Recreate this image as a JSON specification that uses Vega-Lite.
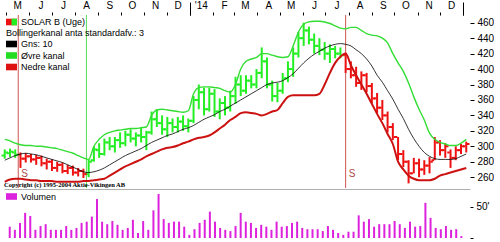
{
  "$schema": "https://vega.github.io/schema/vega-lite/v6.json",
  "padding": 0,
  "background": "white",
  "spacing": 0,
  "config": {
    "view": {"stroke": null},
    "font": "Liberation Sans",
    "axis": {"labelFont": "Liberation Sans", "labelColor": "#000", "tickColor": "#000", "grid": false, "labelOverlap": false},
    "legend": {"symbolOpacity": 1, "symbolStrokeWidth": 0, "labelFont": "Liberation Sans", "labelColor": "#000", "titleFont": "Liberation Sans", "titleColor": "#000"}
  },
  "datasets": {
    "weeks": [
      {"date":"2013-04-29","open":288,"high":296,"low":284,"close":292,"mid":282,"upper":309,"lower":254,"vol":18,"signal":"buy"},
      {"date":"2013-05-06","open":291,"high":297,"low":286,"close":293,"mid":285,"upper":307,"lower":257,"vol":13,"signal":"buy"},
      {"date":"2013-05-13","open":292,"high":296,"low":285,"close":289,"mid":288,"upper":304,"lower":258,"vol":24,"signal":"buy"},
      {"date":"2013-05-20","open":289,"high":292,"low":272,"close":284,"mid":290,"upper":302,"lower":258,"vol":40,"signal":"sell"},
      {"date":"2013-05-27","open":284,"high":291,"low":279,"close":287,"mid":291,"upper":301,"lower":257,"vol":35,"signal":"sell"},
      {"date":"2013-06-03","open":287,"high":290,"low":279,"close":283,"mid":290,"upper":301,"lower":256,"vol":13,"signal":"sell"},
      {"date":"2013-06-10","open":283,"high":289,"low":276,"close":285,"mid":289,"upper":300,"lower":256,"vol":19,"signal":"sell"},
      {"date":"2013-06-17","open":285,"high":288,"low":274,"close":278,"mid":287,"upper":300,"lower":255,"vol":22,"signal":"sell"},
      {"date":"2013-06-24","open":278,"high":284,"low":270,"close":280,"mid":285,"upper":299,"lower":255,"vol":13,"signal":"sell"},
      {"date":"2013-07-01","open":280,"high":283,"low":268,"close":272,"mid":283,"upper":298,"lower":255,"vol":13,"signal":"sell"},
      {"date":"2013-07-08","open":272,"high":280,"low":267,"close":276,"mid":281,"upper":297,"lower":254,"vol":13,"signal":"sell"},
      {"date":"2013-07-15","open":276,"high":279,"low":265,"close":268,"mid":279,"upper":295,"lower":254,"vol":19,"signal":"sell"},
      {"date":"2013-07-22","open":268,"high":276,"low":264,"close":272,"mid":276,"upper":293,"lower":254,"vol":13,"signal":"sell"},
      {"date":"2013-07-29","open":272,"high":275,"low":262,"close":266,"mid":273,"upper":291,"lower":254,"vol":16,"signal":"sell"},
      {"date":"2013-08-05","open":266,"high":272,"low":261,"close":268,"mid":270,"upper":288,"lower":254,"vol":24,"signal":"sell"},
      {"date":"2013-08-12","open":268,"high":271,"low":259,"close":264,"mid":267,"upper":285,"lower":255,"vol":26,"signal":"sell"},
      {"date":"2013-08-19","open":264,"high":283,"low":260,"close":280,"mid":266,"upper":283,"lower":255,"vol":34,"signal":"buy"},
      {"date":"2013-08-26","open":282,"high":300,"low":280,"close":296,"mid":267,"upper":300,"lower":256,"vol":62,"signal":"buy"},
      {"date":"2013-09-02","open":295,"high":304,"low":285,"close":290,"mid":269,"upper":309,"lower":257,"vol":26,"signal":"buy"},
      {"date":"2013-09-09","open":290,"high":310,"low":288,"close":305,"mid":272,"upper":315,"lower":258,"vol":22,"signal":"buy"},
      {"date":"2013-09-16","open":305,"high":312,"low":295,"close":300,"mid":276,"upper":318,"lower":262,"vol":27,"signal":"buy"},
      {"date":"2013-09-23","open":300,"high":312,"low":292,"close":308,"mid":280,"upper":320,"lower":266,"vol":21,"signal":"buy"},
      {"date":"2013-09-30","open":308,"high":318,"low":298,"close":304,"mid":284,"upper":321,"lower":270,"vol":13,"signal":"buy"},
      {"date":"2013-10-07","open":304,"high":320,"low":300,"close":315,"mid":288,"upper":322,"lower":274,"vol":16,"signal":"buy"},
      {"date":"2013-10-14","open":315,"high":322,"low":305,"close":310,"mid":291,"upper":323,"lower":277,"vol":29,"signal":"buy"},
      {"date":"2013-10-21","open":310,"high":318,"low":300,"close":314,"mid":294,"upper":323,"lower":280,"vol":8,"signal":"buy"},
      {"date":"2013-10-28","open":314,"high":325,"low":305,"close":312,"mid":297,"upper":324,"lower":283,"vol":27,"signal":"buy"},
      {"date":"2013-11-04","open":312,"high":320,"low":295,"close":318,"mid":301,"upper":325,"lower":287,"vol":13,"signal":"buy"},
      {"date":"2013-11-11","open":318,"high":345,"low":315,"close":335,"mid":305,"upper":340,"lower":290,"vol":44,"signal":"buy"},
      {"date":"2013-11-18","open":335,"high":348,"low":325,"close":330,"mid":308,"upper":347,"lower":293,"vol":70,"signal":"buy"},
      {"date":"2013-11-25","open":330,"high":340,"low":315,"close":322,"mid":311,"upper":348,"lower":296,"vol":30,"signal":"buy"},
      {"date":"2013-12-02","open":322,"high":338,"low":312,"close":330,"mid":314,"upper":347,"lower":298,"vol":24,"signal":"buy"},
      {"date":"2013-12-09","open":330,"high":336,"low":318,"close":325,"mid":316,"upper":346,"lower":299,"vol":26,"signal":"buy"},
      {"date":"2013-12-16","open":325,"high":338,"low":318,"close":332,"mid":319,"upper":345,"lower":301,"vol":26,"signal":"buy"},
      {"date":"2013-12-23","open":332,"high":340,"low":320,"close":326,"mid":322,"upper":344,"lower":304,"vol":18,"signal":"buy"},
      {"date":"2013-12-30","open":326,"high":336,"low":318,"close":333,"mid":324,"upper":346,"lower":306,"vol":5,"signal":"buy"},
      {"date":"2014-01-06","open":333,"high":365,"low":330,"close":360,"mid":327,"upper":368,"lower":309,"vol":14,"signal":"buy"},
      {"date":"2014-01-13","open":360,"high":380,"low":348,"close":370,"mid":331,"upper":376,"lower":311,"vol":24,"signal":"buy"},
      {"date":"2014-01-20","open":370,"high":376,"low":340,"close":348,"mid":335,"upper":377,"lower":312,"vol":29,"signal":"buy"},
      {"date":"2014-01-27","open":348,"high":376,"low":345,"close":368,"mid":338,"upper":377,"lower":314,"vol":42,"signal":"buy"},
      {"date":"2014-02-03","open":368,"high":374,"low":338,"close":345,"mid":341,"upper":376,"lower":318,"vol":26,"signal":"buy"},
      {"date":"2014-02-10","open":345,"high":362,"low":335,"close":356,"mid":345,"upper":375,"lower":323,"vol":16,"signal":"buy"},
      {"date":"2014-02-17","open":356,"high":365,"low":340,"close":350,"mid":348,"upper":372,"lower":328,"vol":13,"signal":"buy"},
      {"date":"2014-02-24","open":350,"high":372,"low":345,"close":365,"mid":352,"upper":370,"lower":334,"vol":11,"signal":"buy"},
      {"date":"2014-03-03","open":365,"high":390,"low":355,"close":380,"mid":356,"upper":380,"lower":338,"vol":19,"signal":"buy"},
      {"date":"2014-03-10","open":380,"high":392,"low":365,"close":372,"mid":360,"upper":400,"lower":343,"vol":40,"signal":"buy"},
      {"date":"2014-03-17","open":372,"high":392,"low":368,"close":385,"mid":364,"upper":410,"lower":344,"vol":26,"signal":"buy"},
      {"date":"2014-03-24","open":385,"high":392,"low":375,"close":380,"mid":368,"upper":413,"lower":343,"vol":24,"signal":"buy"},
      {"date":"2014-03-31","open":380,"high":400,"low":375,"close":395,"mid":372,"upper":415,"lower":342,"vol":16,"signal":"buy"},
      {"date":"2014-04-07","open":395,"high":428,"low":388,"close":410,"mid":376,"upper":420,"lower":340,"vol":21,"signal":"buy"},
      {"date":"2014-04-14","open":410,"high":415,"low":375,"close":380,"mid":380,"upper":420,"lower":342,"vol":18,"signal":"buy"},
      {"date":"2014-04-21","open":380,"high":385,"low":358,"close":365,"mid":382,"upper":418,"lower":345,"vol":13,"signal":"buy"},
      {"date":"2014-04-28","open":365,"high":382,"low":357,"close":372,"mid":383,"upper":416,"lower":347,"vol":26,"signal":"buy"},
      {"date":"2014-05-05","open":372,"high":395,"low":368,"close":388,"mid":385,"upper":415,"lower":356,"vol":18,"signal":"buy"},
      {"date":"2014-05-12","open":388,"high":410,"low":383,"close":400,"mid":389,"upper":416,"lower":364,"vol":19,"signal":"buy"},
      {"date":"2014-05-19","open":400,"high":428,"low":390,"close":420,"mid":394,"upper":430,"lower":366,"vol":24,"signal":"buy"},
      {"date":"2014-05-26","open":420,"high":448,"low":415,"close":440,"mid":401,"upper":448,"lower":366,"vol":26,"signal":"buy"},
      {"date":"2014-06-02","open":440,"high":460,"low":430,"close":450,"mid":408,"upper":458,"lower":366,"vol":16,"signal":"buy"},
      {"date":"2014-06-09","open":450,"high":455,"low":432,"close":438,"mid":414,"upper":461,"lower":366,"vol":14,"signal":"buy"},
      {"date":"2014-06-16","open":438,"high":446,"low":420,"close":430,"mid":419,"upper":462,"lower":366,"vol":14,"signal":"buy"},
      {"date":"2014-06-23","open":430,"high":440,"low":418,"close":425,"mid":423,"upper":462,"lower":368,"vol":14,"signal":"buy"},
      {"date":"2014-06-30","open":425,"high":435,"low":412,"close":420,"mid":427,"upper":461,"lower":380,"vol":11,"signal":"buy"},
      {"date":"2014-07-07","open":420,"high":432,"low":408,"close":426,"mid":430,"upper":459,"lower":395,"vol":19,"signal":"buy"},
      {"date":"2014-07-14","open":426,"high":430,"low":414,"close":420,"mid":432,"upper":456,"lower":408,"vol":13,"signal":"buy"},
      {"date":"2014-07-21","open":420,"high":428,"low":414,"close":418,"mid":433,"upper":453,"lower":416,"vol":8,"signal":"buy"},
      {"date":"2014-07-28","open":418,"high":421,"low":395,"close":400,"mid":432,"upper":452,"lower":420,"vol":5,"signal":"sell"},
      {"date":"2014-08-04","open":400,"high":410,"low":388,"close":392,"mid":430,"upper":454,"lower":405,"vol":10,"signal":"sell"},
      {"date":"2014-08-11","open":392,"high":403,"low":377,"close":382,"mid":425,"upper":454,"lower":392,"vol":10,"signal":"sell"},
      {"date":"2014-08-18","open":382,"high":397,"low":373,"close":392,"mid":420,"upper":450,"lower":380,"vol":36,"signal":"sell"},
      {"date":"2014-08-25","open":392,"high":395,"low":370,"close":378,"mid":413,"upper":446,"lower":368,"vol":26,"signal":"sell"},
      {"date":"2014-09-01","open":378,"high":382,"low":356,"close":362,"mid":404,"upper":444,"lower":355,"vol":30,"signal":"sell"},
      {"date":"2014-09-08","open":362,"high":369,"low":343,"close":350,"mid":392,"upper":443,"lower":342,"vol":18,"signal":"sell"},
      {"date":"2014-09-15","open":350,"high":360,"low":334,"close":340,"mid":383,"upper":440,"lower":330,"vol":22,"signal":"sell"},
      {"date":"2014-09-22","open":340,"high":345,"low":318,"close":325,"mid":372,"upper":434,"lower":316,"vol":22,"signal":"sell"},
      {"date":"2014-09-29","open":325,"high":330,"low":308,"close":312,"mid":361,"upper":420,"lower":303,"vol":22,"signal":"sell"},
      {"date":"2014-10-06","open":312,"high":312,"low":282,"close":290,"mid":348,"upper":408,"lower":280,"vol":27,"signal":"sell"},
      {"date":"2014-10-13","open":290,"high":295,"low":273,"close":280,"mid":336,"upper":397,"lower":270,"vol":22,"signal":"sell"},
      {"date":"2014-10-20","open":280,"high":282,"low":252,"close":265,"mid":322,"upper":382,"lower":262,"vol":16,"signal":"sell"},
      {"date":"2014-10-27","open":265,"high":285,"low":265,"close":278,"mid":310,"upper":364,"lower":258,"vol":26,"signal":"sell"},
      {"date":"2014-11-03","open":278,"high":284,"low":260,"close":270,"mid":300,"upper":348,"lower":256,"vol":18,"signal":"sell"},
      {"date":"2014-11-10","open":270,"high":282,"low":263,"close":275,"mid":292,"upper":334,"lower":256,"vol":19,"signal":"sell"},
      {"date":"2014-11-17","open":275,"high":286,"low":265,"close":280,"mid":287,"upper":317,"lower":256,"vol":56,"signal":"sell"},
      {"date":"2014-11-24","open":282,"high":312,"low":282,"close":305,"mid":284,"upper":309,"lower":258,"vol":32,"signal":"sell"},
      {"date":"2014-12-01","open":305,"high":308,"low":288,"close":295,"mid":283,"upper":305,"lower":262,"vol":16,"signal":"sell"},
      {"date":"2014-12-08","open":295,"high":304,"low":285,"close":300,"mid":283,"upper":303,"lower":264,"vol":14,"signal":"sell"},
      {"date":"2014-12-15","open":292,"high":296,"low":272,"close":285,"mid":283,"upper":301,"lower":266,"vol":19,"signal":"sell"},
      {"date":"2014-12-22","open":285,"high":300,"low":282,"close":295,"mid":284,"upper":301,"lower":268,"vol":13,"signal":"sell"},
      {"date":"2014-12-29","open":295,"high":303,"low":290,"close":300,"mid":287,"upper":304,"lower":270,"vol":14,"signal":"sell"},
      {"date":"2015-01-05","open":300,"high":306,"low":292,"close":303,"mid":290,"upper":309,"lower":272,"vol":3,"signal":"sell"}
    ],
    "signals": [
      {"date":"2013-05-17","signal":"sell"},
      {"date":"2013-08-16","signal":"buy"},
      {"date":"2014-07-28","signal":"sell"}
    ]
  },
  "vconcat": [
    {
      "width": 466,
      "height": 173,
      "resolve": {"scale": {"color": "independent"}, "axis": {"x": "independent", "y": "independent"}, "legend": {"color": "independent"}},
      "layer": [
        {
          "data": {"name": "signals"},
          "mark": {"type": "rule", "strokeWidth": 1},
          "encoding": {
            "x": {"field": "date", "type": "temporal", "axis": null},
            "color": {"field": "signal", "type": "nominal", "scale": {"domain": ["buy", "sell"], "range": ["#55dd55", "#cc5555"]}, "legend": null}
          }
        },
        {
          "data": {"name": "weeks"},
          "mark": {"type": "rule", "strokeWidth": 2},
          "encoding": {
            "x": {"field": "date", "type": "temporal",
              "scale": {"domain": [{"year": 2013, "month": 4, "date": 28}, {"year": 2015, "month": 1, "date": 10}]},
              "axis": {"orient": "top", "tickCount": {"interval": "month", "step": 1},
                "labelExpr": "month(datum.value)==0 ? (year(datum.value)==2014 ? \"'14\" : '') : substring(timeFormat(datum.value, '%b'), 0, 1)",
                "labelOffset": 11, "tickSize": 3, "labelPadding": 2, "domain": false, "grid": false, "title": null,
                "labelFontSize": 10, "labelAngle": 0, "labelFlush": false, "labelOverlap": false, "labelBound": false}},
            "y": {"field": "low", "type": "quantitative",
              "scale": {"domain": [246, 470], "nice": false, "zero": false},
              "axis": {"orient": "right", "values": [260, 280, 300, 320, 340, 360, 380, 400, 420, 440, 460], "tickSize": 4, "labelPadding": 3, "domain": false, "grid": false, "title": null, "labelFontSize": 10, "labelOverlap": false, "labelFlush": false}},
            "y2": {"field": "high"},
            "color": {"field": "signal", "type": "nominal", "scale": {"domain": ["buy", "sell"], "range": ["#22ee22", "#ee1111"]}, "legend": null}
          }
        },
        {
          "data": {"name": "weeks"},
          "mark": {"type": "tick", "orient": "horizontal", "size": 2.5, "thickness": 2, "xOffset": -2, "opacity": 1},
          "encoding": {
            "x": {"field": "date", "type": "temporal",
              "axis": {"orient": "top", "values": [{"year": 2014, "month": 1, "date": 1}, {"year": 2015, "month": 1, "date": 1}], "tickSize": 13, "labels": false, "domain": false, "grid": false, "title": null}},
            "y": {"field": "open", "type": "quantitative", "axis": null},
            "color": {"field": "signal", "type": "nominal", "scale": {"domain": ["buy", "sell"], "range": ["#22ee22", "#ee1111"]}, "legend": null}
          }
        },
        {
          "data": {"name": "weeks"},
          "mark": {"type": "tick", "orient": "horizontal", "size": 2.5, "thickness": 2, "xOffset": 2, "opacity": 1},
          "encoding": {
            "x": {"field": "date", "type": "temporal", "axis": null},
            "y": {"field": "close", "type": "quantitative", "axis": null},
            "color": {"field": "signal", "type": "nominal", "scale": {"domain": ["buy", "sell"], "range": ["#22ee22", "#ee1111"]}, "legend": null}
          }
        },
        {
          "data": {"name": "weeks"},
          "transform": [{"fold": ["mid", "upper", "lower"], "as": ["series", "val"]}],
          "mark": {"type": "line", "interpolate": "monotone"},
          "encoding": {
            "x": {"field": "date", "type": "temporal", "axis": null},
            "y": {"field": "val", "type": "quantitative", "axis": null},
            "color": {"field": "series", "type": "nominal", "scale": {"domain": ["mid", "upper", "lower"], "range": ["#000000", "#33dd33", "#cc1111"]}, "legend": null},
            "strokeWidth": {"field": "series", "type": "nominal", "scale": {"domain": ["mid", "upper", "lower"], "range": [0.8, 2, 2]}, "legend": null}
          }
        },
        {
          "data": {"name": "signals"},
          "transform": [{"filter": {"field": "signal", "equal": "sell"}}],
          "mark": {"type": "text", "align": "left", "baseline": "middle", "dx": 3, "fontSize": 10, "color": "#b04848"},
          "encoding": {
            "x": {"field": "date", "type": "temporal", "axis": null},
            "y": {"datum": 264, "type": "quantitative", "axis": null},
            "text": {"value": "S"}
          }
        },
        {
          "data": {"values": [{"note": "copyright"}]},
          "mark": {"type": "text", "align": "left", "baseline": "bottom", "font": "Liberation Serif", "fontSize": 6.5, "fontWeight": "bold", "color": "#000"},
          "encoding": {
            "x": {"datum": {"year": 2013, "month": 4, "date": 28}, "type": "temporal", "axis": null},
            "y": {"datum": 246.5, "type": "quantitative", "axis": null},
            "text": {"value": "Copyright (c) 1995-2004 Aktie-Vikingen AB"}
          }
        },
        {
          "data": {"values": [{"series": "mid"}, {"series": "upper"}, {"series": "lower"}]},
          "mark": {"type": "square", "size": 0, "opacity": 0},
          "encoding": {
            "color": {"field": "series", "type": "nominal", "scale": {"domain": ["mid", "upper", "lower"], "range": ["#000000", "#22dd22", "#dd1111"]},
              "legend": {"orient": "none", "legendX": 2, "legendY": 13.5, "direction": "vertical",
                "title": "Bollingerkanal anta standardafv.: 3", "titleFontSize": 9, "titleFontWeight": "normal", "titlePadding": 1, "titleLimit": 400,
                "labelExpr": "datum.label == 'mid' ? 'Gns: 10' : datum.label == 'upper' ? 'Øvre kanal' : 'Nedre kanal'",
                "symbolType": "M-1,-0.6H1V0.6H-1Z", "symbolSize": 121, "labelFontSize": 9, "labelOffset": 4, "rowPadding": 0.5, "padding": 0}}
          }
        },
        {
          "data": {"values": [{"signal": "sell"}, {"signal": "buy"}]},
          "mark": {"type": "square", "size": 0, "opacity": 0},
          "encoding": {
            "color": {"field": "signal", "type": "nominal", "scale": {"domain": ["sell", "buy"], "range": ["#ee1111", "#22ee22"]},
              "legend": {"orient": "none", "legendX": 2, "legendY": 1.5, "direction": "vertical", "title": null, "values": ["sell"],
                "labelExpr": "'SOLAR B (Uge)'", "symbolType": "M-1,-0.6H1V0.6H-1Z", "symbolSize": 121, "labelFontSize": 9, "labelOffset": 4, "padding": 0}}
          }
        },
        {
          "data": {"values": [{"signal": "sell"}, {"signal": "buy"}]},
          "mark": {"type": "square", "size": 0, "opacity": 0},
          "encoding": {
            "color": {"field": "signal", "type": "nominal", "scale": {"domain": ["sell", "buy"], "range": ["#ee1111", "#22ee22"]},
              "legend": {"orient": "none", "legendX": 2, "legendY": 1.5, "direction": "vertical", "title": null, "values": ["buy"],
                "labelExpr": "''", "symbolType": "M0,-0.6H1V0.6H0Z", "symbolSize": 121, "labelFontSize": 9, "labelOffset": 4, "padding": 0}}
          }
        }
      ]
    },
    {
      "width": 466,
      "height": 49,
      "data": {"name": "weeks"},
      "mark": {"type": "bar", "width": 2},
      "encoding": {
        "x": {"field": "date", "type": "temporal",
          "scale": {"domain": [{"year": 2013, "month": 4, "date": 28}, {"year": 2015, "month": 1, "date": 10}]},
          "axis": {"orient": "top", "labels": false, "ticks": false, "domainColor": "#b0b0b0", "title": null, "grid": false}},
        "y": {"field": "vol", "type": "quantitative", "scale": {"domain": [0, 78], "nice": false},
          "axis": {"orient": "right", "values": [0, 50], "labelExpr": "datum.value == 50 ? \"50'\" : ''", "tickSize": 3, "labelPadding": 3, "domain": false, "grid": false, "title": null, "labelFontSize": 10}},
        "color": {"datum": "Volumen", "scale": {"range": ["#dd22dd"]},
          "legend": {"orient": "none", "legendX": 2, "legendY": 176, "title": null, "symbolType": "M-1,-0.6H1V0.6H-1Z", "symbolSize": 121, "labelFontSize": 9, "labelOffset": 4, "padding": 0}}
      }
    }
  ]
}
